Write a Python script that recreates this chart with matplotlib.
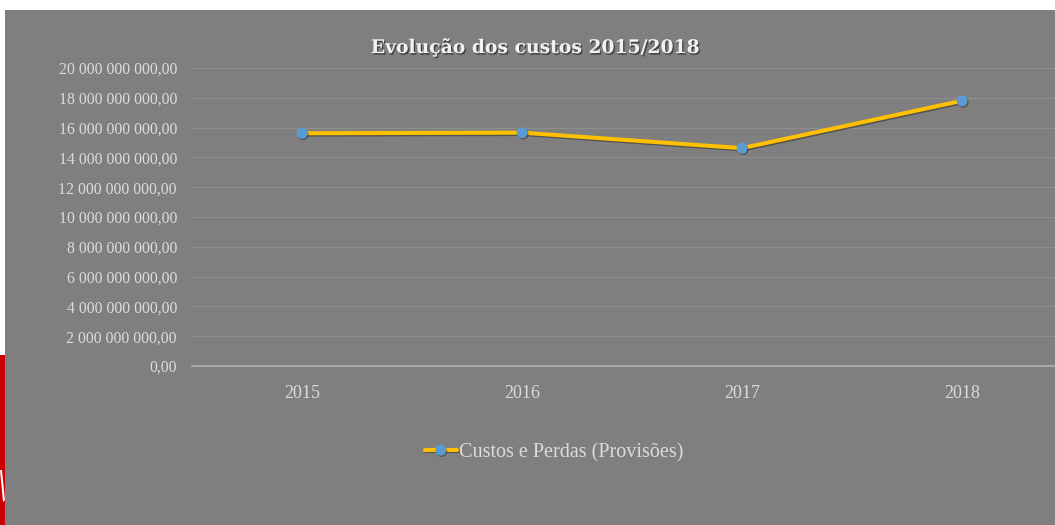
import matplotlib
matplotlib.use("Agg")
import matplotlib.pyplot as plt
import matplotlib.patheffects as pe
from matplotlib.ticker import FuncFormatter, MultipleLocator
from matplotlib.patches import Rectangle, Polygon

categories = ["2015", "2016", "2017", "2018"]
custos = [15.62e9, 15.66e9, 14.62e9, 17.80e9]
series_label = "Custos e Perdas (Provisões)"
title = "Evolução dos custos 2015/2018"

W, H = 1055, 525
bg = "#7f7f7f"
fig = plt.figure(figsize=(W / 100, H / 100), dpi=100)
fig.patch.set_facecolor(bg)

# white strips (top and left) of the slide
fig.patches.append(Rectangle((0, 1 - 10 / H), 1, 10 / H, transform=fig.transFigure,
                             facecolor="white", edgecolor="none", zorder=-5))
fig.patches.append(Rectangle((0, 0), 5 / W, 1, transform=fig.transFigure,
                             facecolor="white", edgecolor="none", zorder=-5))
# red decoration at left edge
fig.patches.append(Rectangle((0, 0), 5 / W, (H - 355) / H, transform=fig.transFigure,
                             facecolor="#cc0000", edgecolor="none", zorder=-4))
fig.patches.append(Polygon([(0, (H - 470) / H), (2 / W, (H - 470) / H), (5 / W, (H - 500) / H),
                            (3 / W, (H - 502) / H)], closed=True, transform=fig.transFigure,
                           facecolor="white", edgecolor="none", zorder=-3))

left, right, top, bottom = 192, 1072, 68, 366
ax = fig.add_axes([left / W, 1 - bottom / H, (right - left) / W, (bottom - top) / H])
ax.set_facecolor("none")
ax.set_zorder(2)

x = [i + 0.5 for i in range(len(categories))]
line, = ax.plot(x, custos, color="#FFC000", lw=2.9, marker="o", markersize=6.8,
                markerfacecolor="#5B9BD5", markeredgecolor="#5B9BD5", zorder=5,
                label=series_label, solid_capstyle="round")
line.set_path_effects([pe.SimpleLineShadow(offset=(0.8, -1.0), shadow_color="k", alpha=0.35),
                       pe.Normal()])

ax.set_xlim(0, 4)
ax.set_ylim(0, 20e9)
ax.yaxis.set_major_locator(MultipleLocator(2e9))

def fmt(v, pos):
    s = f"{v:,.2f}"
    return s.replace(",", " ").replace(".", ",")

ax.yaxis.set_major_formatter(FuncFormatter(fmt))
ax.set_xticks(x)
ax.set_xticklabels(categories)

serif = ["Liberation Serif", "DejaVu Serif"]
tick_color = "#dcdcdc"
for lab in ax.get_yticklabels():
    lab.set_fontfamily(serif)
    lab.set_fontsize(11.3)
    lab.set_color(tick_color)
for lab in ax.get_xticklabels():
    lab.set_fontfamily(serif)
    lab.set_fontsize(13)
    lab.set_color(tick_color)

ax.tick_params(axis="both", length=0)
ax.tick_params(axis="y", pad=10.8)
ax.tick_params(axis="x", pad=13.5)

ax.grid(axis="y", color="#8e8e8e", lw=0.9)
ax.set_axisbelow(True)
for s in ["top", "right", "left"]:
    ax.spines[s].set_visible(False)
ax.spines["bottom"].set_color("#b0b0b0")
ax.spines["bottom"].set_linewidth(1.2)

fig.text(535 / W, 1 - 47.5 / H, title, ha="center", va="center",
         fontfamily=["DejaVu Serif"], fontweight="bold", fontsize=13.5, color="#f2f2f2",
         path_effects=[pe.SimplePatchShadow(offset=(1, -1.2), shadow_rgbFace="k", alpha=0.45),
                       pe.Normal()])

leg = fig.legend(handles=[line], labels=[series_label], loc="center",
                 bbox_to_anchor=(554 / W, 1 - 452.5 / H), frameon=False,
                 prop={"family": serif, "size": 14.5}, labelcolor=tick_color,
                 handlelength=1.6, handletextpad=0.1)

fig.savefig("out.png", dpi=100, facecolor=fig.get_facecolor())
